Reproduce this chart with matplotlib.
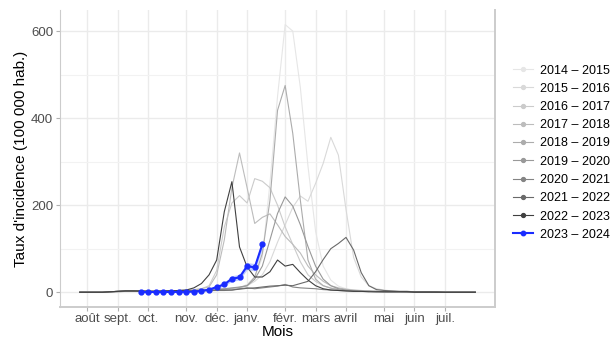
import matplotlib.pyplot as plt
import numpy as np
from matplotlib.lines import Line2D

plt.rcParams['font.family'] = ['Liberation Sans', 'DejaVu Sans']

# week index in the season (0 = start of august)
weeks = np.arange(53)
month_ticks = [1, 5, 9, 14, 18, 22, 27, 31, 35, 40, 44, 48]
month_labels = ['août', 'sept.', 'oct.', 'nov.', 'déc.', 'janv.', 'févr.', 'mars', 'avril', 'mai', 'juin', 'juil.']

seasons = ['2014 – 2015', '2015 – 2016', '2016 – 2017', '2017 – 2018', '2018 – 2019',
           '2019 – 2020', '2020 – 2021', '2021 – 2022', '2022 – 2023']

s2014 = [0, 0, 0, 0, 1, 2, 3, 2, 2, 1, 1, 1, 2, 2, 2, 3, 3, 3, 4, 5, 7, 10, 18, 35, 80, 250,
         450, 615, 600, 470, 290, 140, 60, 28, 14, 8, 5, 3, 2, 2, 2, 1, 1, 1, 1, 1, 1, 0, 0, 0, 0, 0, 0]
s2015 = [0, 0, 0, 0, 1, 2, 2, 2, 2, 2, 2, 2, 3, 3, 3, 4, 4, 5, 5, 6, 8, 10, 15, 25, 40, 70,
         115, 155, 195, 221, 209, 250, 296, 356, 315, 190, 80, 35, 15, 8, 5, 3, 2, 2, 1, 1, 1, 1, 0, 0, 0, 0, 0]
s2016 = [0, 0, 0, 0, 1, 2, 3, 3, 2, 2, 2, 3, 3, 4, 4, 5, 8, 15, 50, 150, 205, 222, 205, 261, 255, 240,
         200, 150, 110, 70, 40, 25, 15, 10, 7, 5, 4, 3, 2, 2, 1, 1, 1, 1, 1, 0, 0, 0, 0, 0, 0, 0, 0]
s2017 = [0, 0, 0, 0, 1, 2, 3, 3, 2, 2, 2, 3, 3, 4, 5, 6, 8, 12, 40, 120, 240, 320, 240, 158, 172, 180,
         155, 128, 110, 90, 60, 40, 25, 15, 10, 7, 5, 4, 3, 2, 2, 1, 1, 1, 1, 0, 0, 0, 0, 0, 0, 0, 0]
s2018 = [0, 0, 0, 0, 1, 2, 3, 3, 2, 2, 2, 2, 3, 3, 3, 4, 4, 5, 6, 7, 9, 11, 15, 35, 89, 211,
         418, 475, 365, 211, 74, 30, 15, 9, 6, 4, 3, 2, 2, 1, 1, 1, 1, 1, 0, 0, 0, 0, 0, 0, 0, 0, 0]
s2019 = [0, 0, 0, 0, 1, 2, 3, 3, 2, 2, 2, 2, 3, 3, 3, 4, 5, 6, 7, 8, 10, 12, 15, 30, 60, 120,
         181, 219, 198, 155, 105, 60, 30, 15, 8, 5, 3, 2, 2, 1, 1, 1, 1, 0, 0, 0, 0, 0, 0, 0, 0, 0, 0]
s2020 = [0, 0, 0, 0, 1, 1, 2, 2, 2, 2, 2, 2, 2, 3, 3, 3, 3, 4, 4, 4, 5, 8, 10, 8, 10, 12,
         14, 18, 12, 10, 9, 8, 6, 5, 4, 3, 3, 2, 2, 2, 1, 1, 1, 1, 1, 1, 1, 0, 0, 0, 0, 0, 0]
s2021 = [0, 0, 0, 0, 1, 2, 3, 3, 2, 2, 2, 2, 3, 3, 3, 3, 4, 4, 5, 5, 5, 7, 9, 10, 12, 14,
         15, 16, 15, 20, 25, 47, 75, 100, 112, 126, 97, 45, 15, 6, 4, 3, 2, 2, 1, 1, 1, 1, 0, 0, 0, 0, 0]
s2022 = [0, 0, 0, 0, 1, 2, 3, 3, 3, 2, 2, 3, 3, 4, 5, 10, 20, 40, 74, 185, 254, 104, 58, 35, 35, 47,
         74, 60, 64, 45, 28, 15, 8, 5, 4, 3, 2, 2, 1, 1, 1, 1, 1, 1, 0, 0, 0, 0, 0, 0, 0, 0, 0]
season_values = [s2014, s2015, s2016, s2017, s2018, s2019, s2020, s2021, s2022]

# current season
cur_label = '2023 – 2024'
cur_weeks = np.arange(8, 25)
cur_values = [0.5, 0.6, 0.5, 0.6, 0.7, 0.8, 1, 1.5, 3, 6, 12, 18, 31, 34, 60, 57, 110]
cur_low = [0, 0, 0, 0, 0, 0, 0, 0.5, 1.5, 4, 9, 14, 25, 28, 52, 49, 100]
cur_high = [1.5, 1.6, 1.5, 1.6, 1.7, 1.8, 2, 2.5, 4.5, 8, 15, 22, 38, 41, 68, 66, 120]

# grey gradient (light -> dark)
n = len(seasons)
g = (0.9 ** 2.2 + (0.25 ** 2.2 - 0.9 ** 2.2) * np.arange(n) / (n - 1)) ** (1 / 2.2)
greys = [(v, v, v) for v in g]
blue = '#1a2cff'

fig = plt.figure(figsize=(6.12, 3.4), dpi=100)
ax = fig.add_axes((0.098, 0.097, 0.711, 0.873))

for vals, col in zip(season_values, greys):
    ax.plot(weeks, vals, color=col, lw=0.8, zorder=2)

ax.fill_between(cur_weeks, cur_low, cur_high, color='#6f8cff', alpha=0.45, lw=0, zorder=3)
ax.plot(cur_weeks, cur_values, color=blue, lw=1.5, marker='o', ms=3.5, zorder=4)

ax.set_xlim(-2.6, 54.6)
ax.set_ylim(-34, 648)
ax.set_xticks(month_ticks)
ax.set_xticklabels(month_labels)
ax.set_yticks([0, 200, 400, 600])
ax.set_yticks([100, 300, 500], minor=True)
ax.grid(True, which='major', color='#ebebeb', lw=1)
ax.grid(True, which='minor', axis='y', color='#f2f2f2', lw=0.8)
ax.set_axisbelow(True)
ax.tick_params(axis='both', which='major', length=3, color='#b0b0b0', labelsize=9.5,
               labelcolor='#4d4d4d', pad=2)
ax.tick_params(axis='x', which='major', pad=1.5)
ax.tick_params(axis='y', which='minor', length=0)
ax.spines['top'].set_visible(False)
for side in ('left', 'bottom', 'right'):
    ax.spines[side].set_color('#cccccc')
ax.spines['left'].set_linewidth(0.8)
ax.spines['bottom'].set_linewidth(1.4)
ax.spines['right'].set_linewidth(1.4)

ax.set_xlabel('Mois', fontsize=11, labelpad=0)
ax.set_ylabel("Taux d'incidence (100 000 hab.)", fontsize=11, labelpad=2)

handles = [Line2D([], [], color=c, lw=0.8, marker='o', ms=2.8) for c in greys]
handles.append(Line2D([], [], color=blue, lw=1.5, marker='o', ms=3.2))
leg = fig.legend(handles, seasons + [cur_label], loc='upper left', bbox_to_anchor=(0.83, 0.825),
                 frameon=False, fontsize=9, handlelength=1.6, handletextpad=0.6, labelspacing=0.5,
                 borderaxespad=0)

fig.savefig('out.png', dpi=100)
